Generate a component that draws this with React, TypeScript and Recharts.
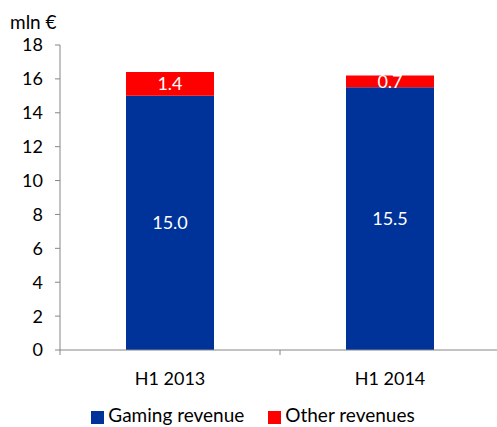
import React from "react";
import {
  BarChart,
  Bar,
  XAxis,
  YAxis,
  Legend,
  LabelList,
} from "recharts";

const periods = ["H1 2013", "H1 2014"];
const gamingRevenue = [15.0, 15.5];
const otherRevenues = [1.4, 0.7];
const yTicks = [0, 2, 4, 6, 8, 10, 12, 14, 16, 18];

const data = periods.map((p, i) => ({
  period: p,
  gaming: gamingRevenue[i],
  other: otherRevenues[i],
}));

const FONT = "Lato, 'Open Sans', sans-serif";
const AXIS = "#868686";

// category tick: label in centre, tick mark on left edge of band (Excel style)
const CatTick = (props: any) => {
  const { x, y, payload } = props;
  const off = payload.offset || 0;
  return (
    <g>
      <line x1={x - off} x2={x - off} y1={y - 8} y2={y - 3} stroke={AXIS} strokeWidth={1} />
      <text x={x} y={y + 27} textAnchor="middle" fill="#000" fontSize={18} fontFamily={FONT}>
        {payload.value}
      </text>
    </g>
  );
};

const fmt = (v: any) => Number(v).toFixed(1);

export default function App() {
  return (
    <div style={{ position: "absolute", left: 0, top: 0, width: 500, height: 427, fontFamily: FONT }}>
      <div style={{ position: "absolute", left: 10, top: 10, fontSize: 19, color: "#000" }}>mln €</div>
      <BarChart
        width={500}
        height={427}
        data={data}
        margin={{ top: 45, right: 0, left: 0, bottom: 25 }}
        barCategoryGap="30%"
      >
        <XAxis
          dataKey="period"
          stroke={AXIS}
          tickLine={false}
          tick={<CatTick />}
          height={30}
        />
        <YAxis
          domain={[0, 18]}
          ticks={yTicks}
          interval={0}
          width={60}
          stroke={AXIS}
          tickSize={5}
          tick={{ fill: "#000", fontSize: 18, fontFamily: FONT, dx: -10 }}
        />
        <Legend
          iconType="square"
          iconSize={13}
          wrapperStyle={{ position: "absolute", top: 404, left: 15, width: 500, lineHeight: "22px", fontSize: 19, fontFamily: FONT }}
          formatter={(v: string) => <span style={{ color: "#000", marginRight: 14 }}>{v}</span>}
        />
        <Bar dataKey="gaming" name="Gaming revenue" stackId="a" fill="#003399" isAnimationActive={false}>
          <LabelList dataKey="gaming" position="center" fill="#fff" fontSize={18} fontFamily={FONT} formatter={fmt} />
        </Bar>
        <Bar dataKey="other" name="Other revenues" stackId="a" fill="#ff0000" isAnimationActive={false}>
          <LabelList dataKey="other" position="center" fill="#fff" fontSize={18} fontFamily={FONT} formatter={fmt} />
        </Bar>
      </BarChart>
    </div>
  );
}
